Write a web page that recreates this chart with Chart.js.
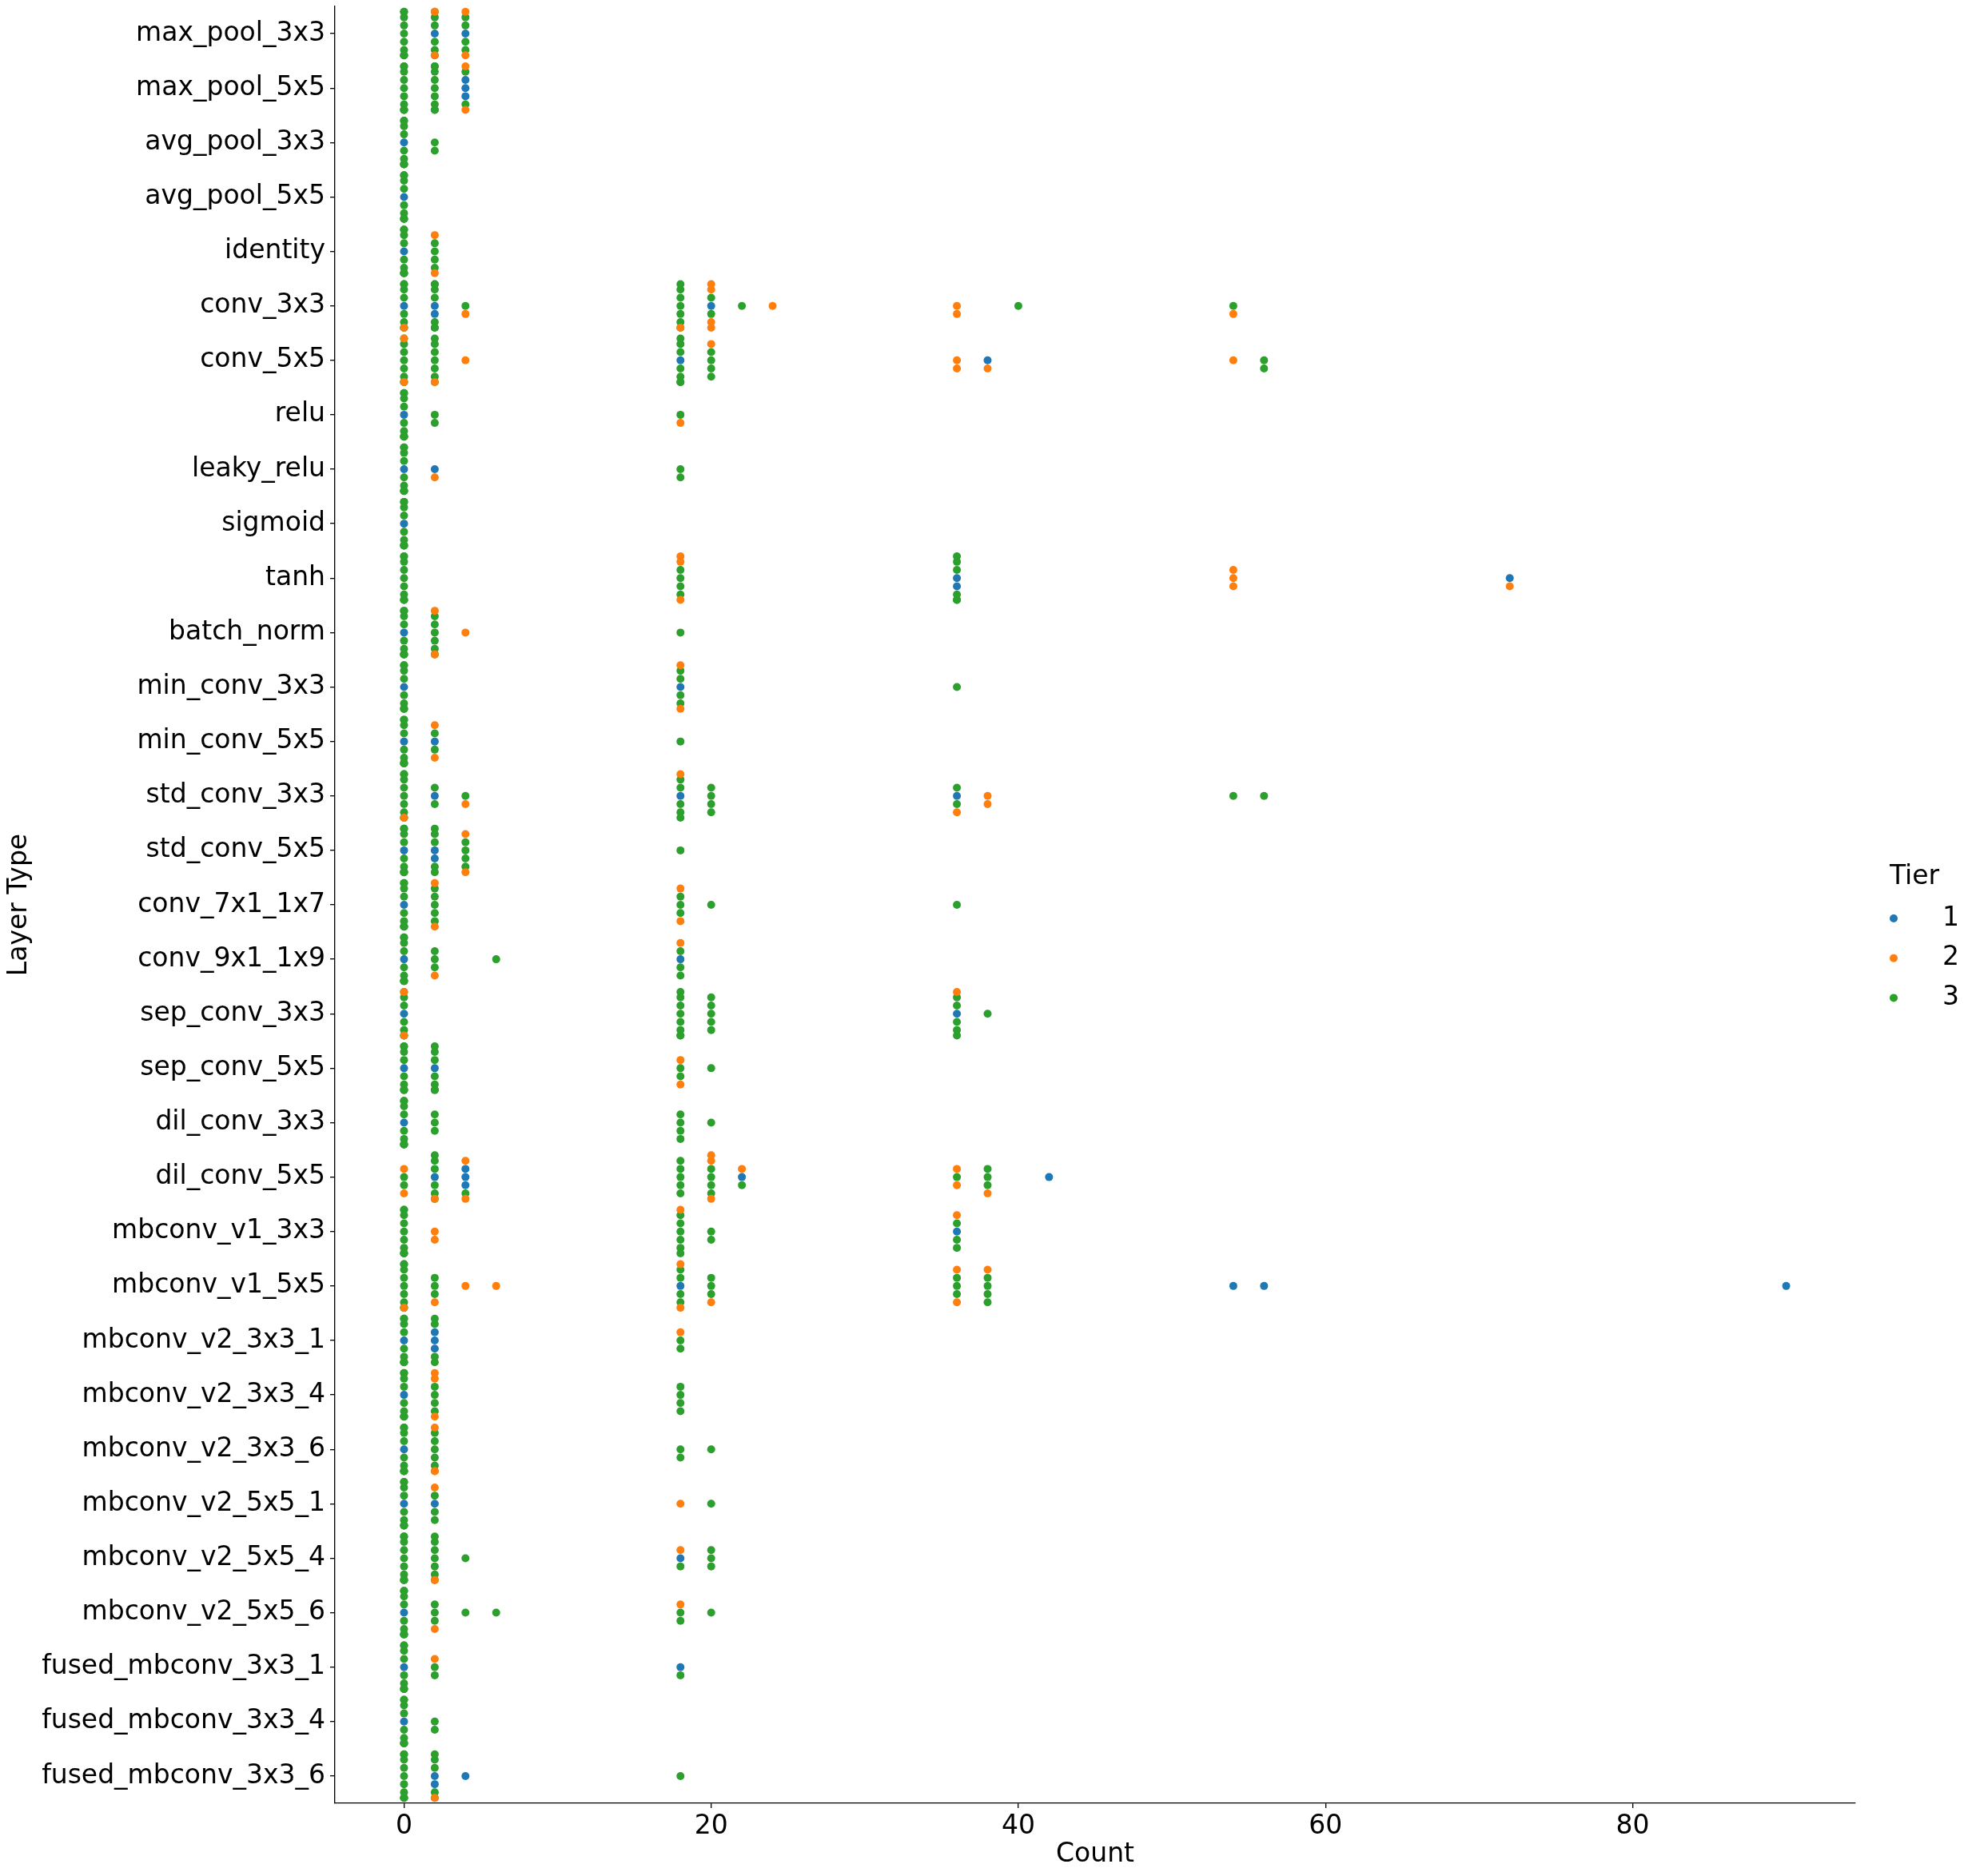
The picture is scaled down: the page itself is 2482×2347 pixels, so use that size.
<!DOCTYPE html>
<html>
<head>
<meta charset="utf-8">
<script src="https://cdn.jsdelivr.net/npm/chart.js@4/dist/chart.umd.min.js"></script>
<style>
  html, body { margin: 0; padding: 0; background: #fff; }
  canvas { display: block; }
</style>
</head>
<body>
<canvas id="swarm" width="2482" height="2347"></canvas>
<script>
// layer types on the vertical axis (top to bottom)
var layerTypes = ["max_pool_3x3", "max_pool_5x5", "avg_pool_3x3", "avg_pool_5x5", "identity",
  "conv_3x3", "conv_5x5", "relu", "leaky_relu", "sigmoid", "tanh", "batch_norm",
  "min_conv_3x3", "min_conv_5x5", "std_conv_3x3", "std_conv_5x5", "conv_7x1_1x7",
  "conv_9x1_1x9", "sep_conv_3x3", "sep_conv_5x5", "dil_conv_3x3", "dil_conv_5x5",
  "mbconv_v1_3x3", "mbconv_v1_5x5", "mbconv_v2_3x3_1", "mbconv_v2_3x3_4", "mbconv_v2_3x3_6",
  "mbconv_v2_5x5_1", "mbconv_v2_5x5_4", "mbconv_v2_5x5_6", "fused_mbconv_3x3_1",
  "fused_mbconv_3x3_4", "fused_mbconv_3x3_6"];

var tiers = ["1", "2", "3"];
var tierColors = ["#1f77b4", "#ff7f0e", "#2ca02c"];

// per layer type: [count value, number of observations]
var tier1 = [
  [[2,1],[4,1]], [[4,3]], [[0,1]], [[0,1]], [[0,1]],
  [[0,1],[2,2],[20,1]], [[18,1],[38,1]], [[0,1]], [[0,1],[2,1]], [[0,1]],
  [[36,2],[72,1]], [[0,1]], [[0,1],[18,1]], [[0,1],[2,1]],
  [[2,1],[18,1],[36,1]], [[0,1],[2,2]], [[0,1]], [[0,1],[18,1]],
  [[0,1],[36,1]], [[0,1],[2,1]], [[0,1]], [[2,1],[4,3],[22,1],[42,1]],
  [[36,1]], [[18,1],[54,1],[56,1],[90,1]], [[0,1],[2,3]], [[0,1]], [[0,1]],
  [[0,1],[2,1]], [[18,1]], [[0,1]], [[0,1],[18,1]], [[0,1]], [[2,2],[4,1]]
];
var tier2 = [
  [[2,2],[4,2]], [[4,2]], [], [], [[2,2]],
  [[0,1],[4,1],[18,1],[20,4],[24,1],[36,2],[54,1]],
  [[0,2],[2,1],[4,1],[20,1],[36,2],[38,1],[54,1]],
  [[18,1]], [[2,1]], [],
  [[18,3],[54,3],[72,1]], [[2,2],[4,1]], [[18,2]], [[2,2]],
  [[0,1],[4,1],[18,1],[36,1],[38,2]], [[4,2]], [[2,2],[18,2]], [[2,1],[18,1]],
  [[0,2],[36,1]], [[18,2]], [], [[0,2],[2,1],[4,2],[20,3],[22,1],[36,2],[38,1]],
  [[2,2],[18,1],[36,1]], [[0,1],[2,1],[4,1],[6,1],[18,2],[20,1],[36,2],[38,1]],
  [[18,1]], [[2,3]], [[2,3]], [[2,1],[18,1]], [[2,1],[18,1]], [[2,1],[18,1]],
  [[2,1]], [], [[2,1]]
];
var tier3 = [
  [[0,10],[2,6],[4,4]], [[0,10],[2,9],[4,2]], [[0,9],[2,2]], [[0,9]], [[0,9],[2,4]],
  [[0,8],[2,7],[4,1],[18,7],[20,2],[22,1],[40,1],[54,1]],
  [[0,8],[2,7],[18,7],[20,4],[56,2]],
  [[0,9],[2,2],[18,1]], [[0,9],[18,2]], [[0,9]],
  [[0,10],[18,4],[36,6]], [[0,9],[2,6],[18,1]], [[0,9],[18,4],[36,1]], [[0,9],[2,2],[18,1]],
  [[0,9],[2,2],[4,1],[18,5],[20,4],[36,2],[54,1],[56,1]],
  [[0,9],[2,5],[4,4],[18,1]], [[0,9],[2,5],[18,3],[20,1],[36,1]],
  [[0,9],[2,3],[6,1],[18,3]], [[0,7],[18,8],[20,5],[36,5],[38,1]],
  [[0,9],[2,7],[18,2],[20,1]], [[0,9],[2,3],[18,4],[20,1]],
  [[0,2],[2,6],[4,1],[18,5],[20,4],[22,1],[36,1],[38,3]],
  [[0,10],[18,6],[20,2],[36,3]], [[0,9],[2,3],[18,4],[20,3],[36,3],[38,4]],
  [[0,9],[2,4],[18,2]], [[0,9],[2,4],[18,4]], [[0,9],[2,5],[18,2],[20,1]],
  [[0,9],[2,3],[20,1]], [[0,10],[2,7],[4,1],[18,1],[20,3]],
  [[0,9],[2,3],[4,1],[6,1],[18,2],[20,1]], [[0,9],[2,2],[18,1]], [[0,9],[2,2]],
  [[0,10],[2,5],[18,1]]
];

var tierData = [tier1, tier2, tier3];

// swarm layout: points with the same count stack around the category line
var STEP = 10.2 / 68.1;   // one dot diameter in category units
var HALF = 0.4;           // half width of a category band
var stackOrder = [0, 2, 1];

var points = [[], [], []];
layerTypes.forEach(function (name, c) {
  var columns = {};
  stackOrder.forEach(function (t) {
    tierData[t][c].forEach(function (pair) {
      var key = pair[0];
      if (!columns[key]) columns[key] = [];
      for (var k = 0; k < pair[1]; k++) columns[key].push(t);
    });
  });
  Object.keys(columns).forEach(function (key) {
    columns[key].forEach(function (t, k) {
      var slot = k === 0 ? 0 : (k % 2 === 1 ? (k + 1) / 2 : -k / 2);
      var off = Math.max(-HALF, Math.min(HALF, slot * STEP));
      points[t].push({ x: Number(key), y: c + off });
    });
  });
});

var FONT = "DejaVu Sans";

var annotations = {
  id: 'annotations',
  afterDraw: function (chart) {
    var ctx = chart.ctx;
    var area = chart.chartArea;
    ctx.save();
    ctx.fillStyle = '#000';
    ctx.font = '33px "' + FONT + '"';
    ctx.textAlign = 'center';
    ctx.textBaseline = 'middle';
    ctx.fillText('Count', (area.left + area.right) / 2, 2320);
    ctx.save();
    ctx.translate(24, (area.top + area.bottom) / 2);
    ctx.rotate(-Math.PI / 2);
    ctx.fillText('Layer Type', 0, 0);
    ctx.restore();
    // legend
    ctx.fillText('Tier', 2395, 1097);
    chart.data.datasets.forEach(function (ds, i) {
      var y = 1149 + i * 49.7;
      ctx.beginPath();
      ctx.arc(2369, y, 5, 0, Math.PI * 2);
      ctx.fillStyle = ds.backgroundColor;
      ctx.fill();
      ctx.fillStyle = '#000';
      ctx.textAlign = 'left';
      ctx.fillText(ds.label, 2430, y);
    });
    ctx.restore();
  }
};

new Chart(document.getElementById('swarm'), {
  type: 'scatter',
  data: {
    datasets: tiers.map(function (t, i) {
      return {
        label: t,
        data: points[i],
        backgroundColor: tierColors[i],
        borderWidth: 0,
        pointRadius: 5,
        pointHoverRadius: 5
      };
    })
  },
  options: {
    responsive: false,
    devicePixelRatio: 1,
    animation: false,
    layout: { autoPadding: false, padding: { top: 8, right: 161, left: 0, bottom: 0 } },
    plugins: { legend: { display: false }, tooltip: { enabled: false } },
    scales: {
      x: {
        type: 'linear',
        min: -4.5,
        max: 94.5,
        afterBuildTicks: function (scale) {
          scale.ticks = [0, 20, 40, 60, 80].map(function (v) { return { value: v }; });
        },
        afterFit: function (scale) {
          scale.height = 91;
          scale.paddingLeft = 0;
          scale.paddingRight = 0;
        },
        grid: { drawOnChartArea: false, drawTicks: true, tickLength: 6, color: '#000', lineWidth: 1.33 },
        border: { display: true, color: '#000', width: 1.33 },
        ticks: { color: '#000', font: { family: FONT, size: 33 }, padding: 4, maxRotation: 0 }
      },
      y: {
        type: 'linear',
        min: -0.5,
        max: 32.5,
        reverse: true,
        afterBuildTicks: function (scale) {
          scale.ticks = layerTypes.map(function (n, i) { return { value: i }; });
        },
        afterFit: function (scale) {
          scale.width = 419;
          scale.paddingTop = 0;
          scale.paddingBottom = 0;
        },
        grid: { drawOnChartArea: false, drawTicks: true, tickLength: 6, color: '#000', lineWidth: 1.33 },
        border: { display: true, color: '#000', width: 1.33 },
        ticks: {
          color: '#000',
          font: { family: FONT, size: 33 },
          padding: 6,
          autoSkip: false,
          callback: function (v) { return layerTypes[v]; }
        }
      }
    }
  },
  plugins: [annotations]
});
</script>
</body>
</html>
